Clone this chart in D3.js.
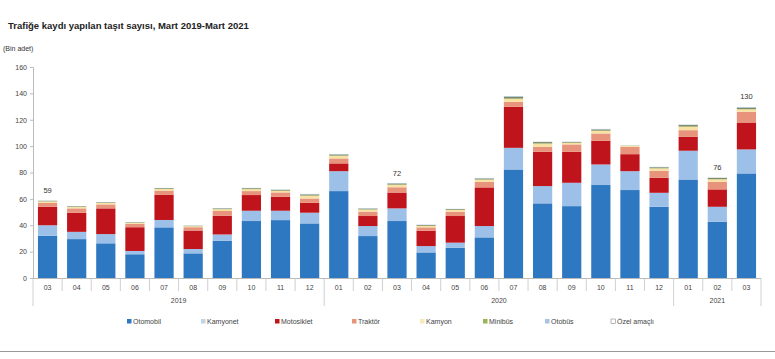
<!DOCTYPE html>
<html>
<head>
<meta charset="utf-8">
<script src="https://cdn.jsdelivr.net/npm/d3@7/dist/d3.min.js"></script>
<style>
body{margin:0;background:#fff;}
svg{display:block;font-family:"Liberation Sans",Arial,sans-serif;}
</style>
</head>
<body>
<svg id="chart" width="775" height="359"></svg>
<script>
const months = ["03","04","05","06","07","08","09","10","11","12","01","02","03","04","05","06","07","08","09","10","11","12","01","02","03"];
const years = ["2019","2019","2019","2019","2019","2019","2019","2019","2019","2019","2020","2020","2020","2020","2020","2020","2020","2020","2020","2020","2020","2020","2021","2021","2021"];
const otomobil   = [32,29.5,26.3,18,38.4,18.7,28.3,43.2,43.9,41.4,65.9,31.8,43.2,19.4,23,30.8,82.3,56.6,54.5,70.5,66.7,54,74.7,42.7,79.3];
const kamyonet   = [8,5.5,7,2.5,5.6,3.3,4.7,7.8,7.1,8.1,15.1,7.6,9.6,4.8,3.8,8.6,16.4,13.1,17.7,15.6,14.3,10.6,21.8,11.3,18.2];
const motosiklet = [14,14.5,19.5,18,19,14,14.2,11.9,10.6,7.5,5.9,7.6,12,11.7,20.2,29.3,31.1,26,23.5,17.9,12.9,11.4,10.5,13.2,20.4];
const traktor    = [3,3.3,3,2.6,3.3,2.5,3.6,3,3.3,3.3,3.8,3.3,4,2.5,3.3,4.2,3.8,3.8,5.6,5.6,5.6,5.3,5.1,5.7,8.1];
const kamyon     = [1.1,1.1,1.1,0.8,1.2,0.8,1.4,1.5,1.3,2.2,2.1,1.7,2,1.2,1.3,1.8,2.4,2.5,1.3,2.1,0.7,1.9,2.7,2,2];
const minibus    = [0.5,0.5,0.5,0.4,0.6,0.4,0.6,0.7,0.7,0.9,0.9,0.7,0.9,0.6,0.6,0.8,1.5,1.1,0.6,1,0.2,0.8,1.2,1,1.2];
const otobus     = [0.2,0.2,0.2,0.2,0.2,0.2,0.3,0.3,0.3,0.4,0.4,0.3,0.4,0.3,0.3,0.4,0.6,0.4,0.3,0.4,0.1,0.4,0.5,0.4,0.6];
const ozel       = [0.2,0.2,0.2,0.2,0.2,0.2,0.2,0.3,0.2,0.3,0.4,0.3,0.3,0.2,0.3,0.4,0.6,0.3,0.3,0.3,0.1,0.4,0.5,0.4,0.7];
const seriesNames = ["Otomobil","Kamyonet","Motosiklet","Traktör","Kamyon","Minibüs","Otobüs","Özel amaçlı"];
const totalLabels = [{i:0,t:"59"},{i:12,t:"72"},{i:23,t:"76"},{i:24,t:"130"}];
const yTicks = [0,20,40,60,80,100,120,140,160];

const seriesData = [otomobil,kamyonet,motosiklet,traktor,kamyon,minibus,otobus,ozel];
const colors = ["#2e78c2","#9dc0e8","#c0141c","#e8937c","#f7e2a3","#7e8e5e","#a9c3e2","#ffffff"];
const legendColors = ["#2e78c2","#bcd6ee","#c0141c","#e8937c","#f7e9b8","#98b45a","#a9c3e2","#ffffff"];

const svg = d3.select("#chart");
const W = 775, H = 359;
const x0 = 33, x1 = 761, yTop = 67, yBot = 278;

const rows = months.map((m,i)=>{
  const r = {idx:i};
  seriesNames.forEach((s,k)=>{ r[s] = seriesData[k][i]; });
  return r;
});
const stack = d3.stack().keys(seriesNames)(rows);

const x = d3.scaleBand().domain(d3.range(months.length)).range([x0,x1]).paddingInner(0.34).paddingOuter(0.17);
const y = d3.scaleLinear().domain([0,160]).range([yBot,yTop]);

// title
svg.append("text").attr("x",8).attr("y",29).attr("font-size",9.5).attr("font-weight","bold").attr("fill","#222")
  .text("Trafiğe kaydı yapılan taşıt sayısı, Mart 2019-Mart 2021");
svg.append("text").attr("x",3).attr("y",51).attr("font-size",7).attr("fill","#333").text("(Bin adet)");

// y axis
const yAxis = d3.axisLeft(y).tickValues(yTicks).tickSize(3).tickPadding(3);
const ya = svg.append("g").attr("transform",`translate(${x0},0)`).call(yAxis);
ya.select(".domain").attr("stroke","#bbb");
ya.selectAll(".tick line").attr("stroke","#bbb");
ya.selectAll(".tick text").attr("font-size",7).attr("fill","#444").attr("font-family","Liberation Sans, Arial, sans-serif");

// bars
const g = svg.append("g");
stack.forEach((layer,k)=>{
  g.selectAll(null).data(layer).enter().append("rect")
    .attr("x",(d,i)=>x(i))
    .attr("width",x.bandwidth())
    .attr("y",d=>y(d[1]))
    .attr("height",d=>Math.max(0,y(d[0])-y(d[1])))
    .attr("fill",colors[k]);
});

// total labels
totalLabels.forEach(l=>{
  const top = stack[stack.length-1][l.i][1];
  svg.append("text").attr("x",x(l.i)+x.bandwidth()/2).attr("y",y(top)-7)
    .attr("text-anchor","middle").attr("font-size",7.5).attr("fill","#333").text(l.t);
});

// x axis
const step = x.step();
svg.append("line").attr("x1",x0).attr("x2",x1).attr("y1",yBot+0.5).attr("y2",yBot+0.5).attr("stroke","#bbb");
for(let i=0;i<=months.length;i++){
  const bx = x0 + x.paddingOuter()*0 + i*((x1-x0)/months.length);
  const isYear = (i===0 || i===months.length || years[i]!==years[i-1]);
  svg.append("line").attr("x1",bx).attr("x2",bx).attr("y1",yBot).attr("y2",isYear?306:291)
    .attr("stroke","#c4c4c4").attr("stroke-width",0.8);
}
months.forEach((m,i)=>{
  const cx = x0 + (i+0.5)*((x1-x0)/months.length);
  svg.append("text").attr("x",cx).attr("y",290).attr("text-anchor","middle").attr("font-size",7).attr("fill","#444").text(m);
});
const yearGroups = d3.groups(d3.range(months.length), i=>years[i]);
yearGroups.forEach(([yr,idx])=>{
  const a = x0 + idx[0]*((x1-x0)/months.length);
  const b = x0 + (idx[idx.length-1]+1)*((x1-x0)/months.length);
  svg.append("text").attr("x",(a+b)/2).attr("y",303).attr("text-anchor","middle").attr("font-size",7).attr("fill","#444").text(yr);
});

// legend
const legendX = [127,201,275,352,420,483,545,611];
seriesNames.forEach((s,k)=>{
  const lg = svg.append("g").attr("transform",`translate(${legendX[k]},324)`);
  lg.append("rect").attr("x",0).attr("y",-5).attr("width",4.5).attr("height",4.5)
    .attr("fill",legendColors[k]).attr("stroke",k===7?"#888":"none").attr("stroke-width",0.6);
  lg.append("text").attr("x",6).attr("y",0).attr("font-size",7).attr("fill","#444").text(s);
});

// bottom rule
svg.append("line").attr("x1",0).attr("x2",W).attr("y1",351.5).attr("y2",351.5).attr("stroke","#999").attr("stroke-width",1);
</script>
</body>
</html>
